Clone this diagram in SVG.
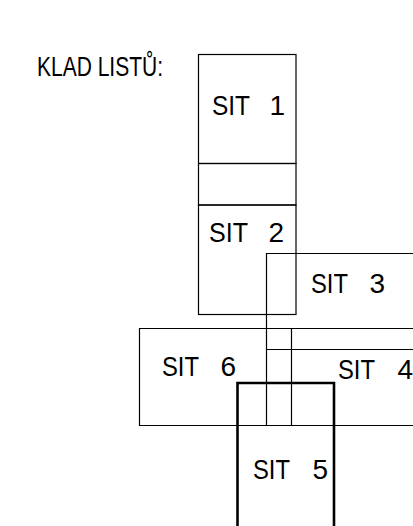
<svg xmlns="http://www.w3.org/2000/svg" width="413" height="526" viewBox="0 0 413 526">
<style>
.l{fill:none;stroke:#000;stroke-width:1.2}
.t{stroke:#000;stroke-width:2.6;fill:none}
text{font-family:"Liberation Sans","DejaVu Sans",sans-serif;font-size:28px;fill:#000}
.n{text-anchor:end}
</style>
<rect width="413" height="526" fill="#fff"/>
<text x="37" y="76" font-size="29" textLength="126" lengthAdjust="spacingAndGlyphs">KLAD LISTŮ:</text>
<g id="sit1">
<rect class="l" x="198.5" y="54.5" width="97.5" height="109"/>
<text y="115"><tspan x="212" textLength="38" lengthAdjust="spacingAndGlyphs">SIT</tspan><tspan class="n" x="285">1</tspan></text>
</g>
<g id="gap12"><rect class="l" x="198.5" y="163.5" width="97.5" height="41.5"/></g>
<g id="sit2">
<rect class="l" x="198.5" y="205" width="97.5" height="109.5"/>
<text y="242"><tspan x="209" textLength="39" lengthAdjust="spacingAndGlyphs">SIT</tspan><tspan class="n" x="284">2</tspan></text>
</g>
<g id="sit3">
<path class="l" d="M413,253.5 H266.5 V349.5 H413"/>
<text y="293"><tspan x="311" textLength="37" lengthAdjust="spacingAndGlyphs">SIT</tspan><tspan class="n" x="385">3</tspan></text>
</g>
<g id="sit6">
<path class="l" d="M413,328.5 H139.5 V425.5 H413"/>
<path class="l" d="M266.5,349.5 V425.5 M291.5,328.5 V425.5"/>
<text y="376"><tspan x="162" textLength="37" lengthAdjust="spacingAndGlyphs">SIT</tspan><tspan class="n" x="236">6</tspan></text>
</g>
<g id="sit4">
<text y="379"><tspan x="338" textLength="37" lengthAdjust="spacingAndGlyphs">SIT</tspan><tspan class="n" x="413">4</tspan></text>
</g>
<g id="sit5">
<path class="t" d="M237.5,526 V383 H334 V526"/>
<text y="479"><tspan x="253" textLength="37" lengthAdjust="spacingAndGlyphs">SIT</tspan><tspan class="n" x="328">5</tspan></text>
</g>
</svg>
